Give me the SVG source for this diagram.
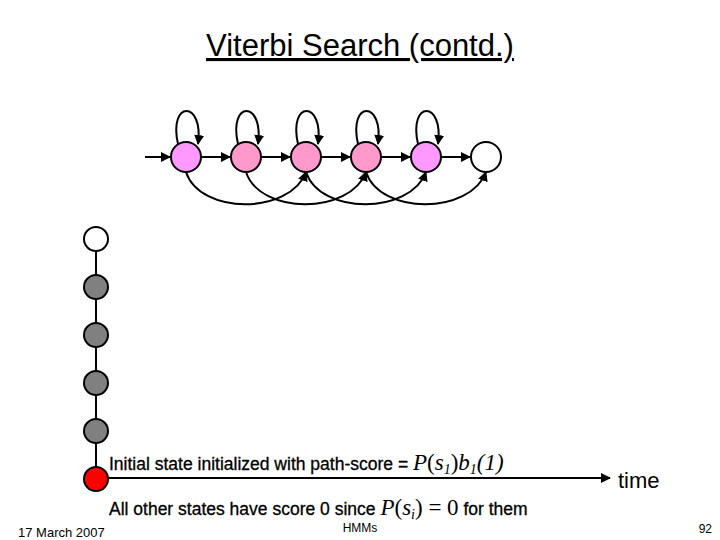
<svg xmlns="http://www.w3.org/2000/svg" width="720" height="540" viewBox="0 0 720 540">
<defs>
<marker id="ah" viewBox="0 0 10 10" refX="9" refY="5" markerWidth="5" markerHeight="5" orient="auto"><path d="M0,0L10,5L0,10z" fill="#000"/></marker>
<style>
.s{font-family:"Liberation Sans",Arial,sans-serif}
.m{font-family:"Liberation Serif","Times New Roman",serif;font-style:italic}
.e{fill:none;stroke:#000;stroke-width:2}
.n{stroke:#000;stroke-width:2}
</style>
</defs>
<rect width="720" height="540" fill="#fff"/>
<text class="s" x="360" y="56" font-size="31" text-anchor="middle" text-decoration="underline">Viterbi Search (contd.)</text>
<g id="connectors">
<line class="e" x1="145" y1="157" x2="170" y2="157" marker-end="url(#ah)"/>
<line class="e" x1="201" y1="157" x2="230" y2="157" marker-end="url(#ah)"/>
<line class="e" x1="261" y1="157" x2="290" y2="157" marker-end="url(#ah)"/>
<line class="e" x1="321" y1="157" x2="350" y2="157" marker-end="url(#ah)"/>
<line class="e" x1="381" y1="157" x2="410" y2="157" marker-end="url(#ah)"/>
<line class="e" x1="441" y1="157" x2="470" y2="157" marker-end="url(#ah)"/>
<path class="e" d="M178,144 C168,100 204,100 198,144" marker-end="url(#ah)"/>
<path class="e" d="M238,144 C228,100 264,100 258,144" marker-end="url(#ah)"/>
<path class="e" d="M298,144 C288,100 324,100 318,144" marker-end="url(#ah)"/>
<path class="e" d="M358,144 C348,100 384,100 378,144" marker-end="url(#ah)"/>
<path class="e" d="M418,144 C408,100 444,100 438,144" marker-end="url(#ah)"/>
<path class="e" d="M186,172 C200,215 290,215 306,172" marker-end="url(#ah)"/>
<path class="e" d="M246,172 C260,215 350,215 366,172" marker-end="url(#ah)"/>
<path class="e" d="M306,172 C320,215 410,215 426,172" marker-end="url(#ah)"/>
<path class="e" d="M366,172 C380,215 470,215 486,172" marker-end="url(#ah)"/>
<line class="e" x1="96" y1="239" x2="96" y2="479"/>
<line class="e" x1="96" y1="478" x2="610" y2="478" marker-end="url(#ah)"/>
</g>
<g id="n1"><circle class="n" cx="186" cy="157" r="15" fill="#ff99ff"/></g>
<g id="n2"><circle class="n" cx="246" cy="157" r="15" fill="#ff99cc"/></g>
<g id="n3"><circle class="n" cx="306" cy="157" r="15" fill="#ff99cc"/></g>
<g id="n4"><circle class="n" cx="366" cy="157" r="15" fill="#ff99cc"/></g>
<g id="n5"><circle class="n" cx="426" cy="157" r="15" fill="#ff99ff"/></g>
<g id="n6"><circle class="n" cx="486" cy="157" r="15" fill="#fff"/></g>
<g id="v1"><circle class="n" cx="96" cy="239" r="12" fill="#fff"/></g>
<g id="v2"><circle class="n" cx="96" cy="287" r="12" fill="#808080"/></g>
<g id="v3"><circle class="n" cx="96" cy="335" r="12" fill="#808080"/></g>
<g id="v4"><circle class="n" cx="96" cy="383" r="12" fill="#808080"/></g>
<g id="v5"><circle class="n" cx="96" cy="431" r="12" fill="#808080"/></g>
<g id="v6"><circle class="n" cx="96" cy="479" r="12" fill="#ff0000"/></g>
<text class="s" x="109" y="470" font-size="17.5" stroke="#000" stroke-width="0.3">Initial state initialized with path-score = <tspan class="m" font-size="23" stroke="none">P</tspan><tspan font-family="Liberation Serif" font-size="23" stroke="none">(</tspan><tspan class="m" font-size="23" stroke="none">s</tspan><tspan class="m" font-size="14" dy="4" stroke="none">1</tspan><tspan font-family="Liberation Serif" font-size="23" dy="-4" stroke="none">)</tspan><tspan class="m" font-size="23" stroke="none">b</tspan><tspan class="m" font-size="14" dy="4" stroke="none">1</tspan><tspan class="m" font-size="23" dy="-4" stroke="none">(1)</tspan></text>
<text class="s" x="109" y="515" font-size="17.5" stroke="#000" stroke-width="0.3">All other states have score 0 since <tspan class="m" font-size="23" stroke="none">P</tspan><tspan font-family="Liberation Serif" font-size="23" stroke="none">(</tspan><tspan class="m" font-size="23" stroke="none">s</tspan><tspan class="m" font-size="14" dy="4" stroke="none">i</tspan><tspan font-family="Liberation Serif" font-size="23" dy="-4" stroke="none">) = 0</tspan> for them</text>
<text class="s" x="618" y="488" font-size="22">time</text>
<text class="s" x="18" y="537" font-size="13">17 March 2007</text>
<text class="s" x="360" y="532" font-size="12" text-anchor="middle">HMMs</text>
<text class="s" x="712" y="533" font-size="12" text-anchor="end">92</text>
</svg>
